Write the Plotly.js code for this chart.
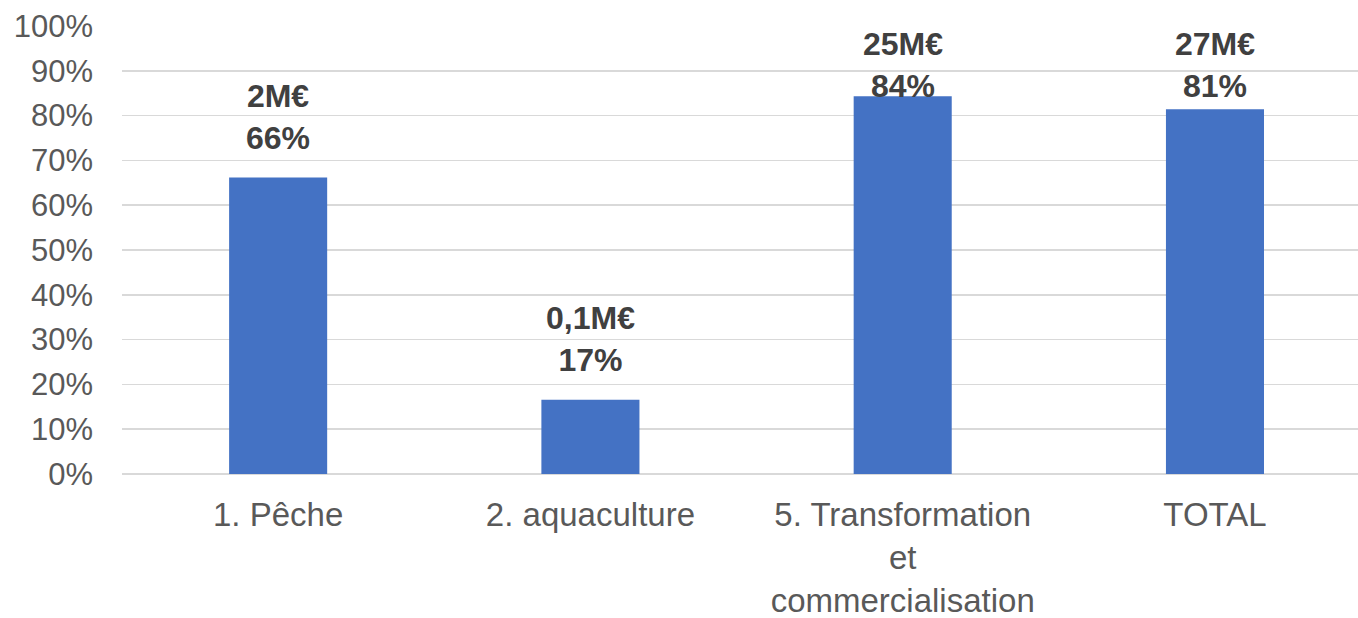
<!DOCTYPE html>
<html>
<head>
<meta charset="utf-8">
<script src="https://cdn.plot.ly/plotly-3.0.1.min.js"></script>
<style>html,body{margin:0;padding:0;background:#fff;}#chart{width:1358px;height:618px;}</style>
</head>
<body>
<div id="chart"></div>
<script>
const categories = ["1. Pêche", "2. aquaculture", "5. Transformation<br>et<br>commercialisation", "TOTAL"];
const shareValues = [66.2, 16.6, 84.3, 81.4];
const amountLabels = ["2M€", "0,1M€", "25M€", "27M€"];
const shareLabels = ["66%", "17%", "84%", "81%"];
const yTickValues = [0, 10, 20, 30, 40, 50, 60, 70, 80, 90, 100];

const trace = {
  type: "bar",
  x: categories,
  y: shareValues,
  width: 0.314,
  marker: {color: "#4472C4"},
  hoverinfo: "skip"
};

// data labels sit above bars, but are kept inside the plot area (as Excel does)
const LABEL_GAP = 4.4;
const LABEL_CAP = 82.1;
const annotations = categories.map((c, i) => ({
  x: c,
  y: Math.min(shareValues[i] + LABEL_GAP, LABEL_CAP),
  xref: "x",
  yref: "y",
  text: amountLabels[i] + "<br>" + shareLabels[i],
  showarrow: false,
  yanchor: "bottom",
  font: {family: "Liberation Sans, Arial, sans-serif", size: 32, color: "#404040", weight: "bold"}
}));

const layout = {
  width: 1358,
  height: 618,
  margin: {l: 122, r: 0, t: 26, b: 144},
  paper_bgcolor: "#ffffff",
  plot_bgcolor: "#ffffff",
  showlegend: false,
  font: {family: "Liberation Sans, Arial, sans-serif", color: "#595959"},
  xaxis: {
    type: "category",
    range: [-0.5, 3.458],
    showgrid: false,
    showline: false,
    zeroline: false,
    ticks: "",
    ticklabelstandoff: 18,
    tickfont: {size: 33, color: "#595959"},
    fixedrange: true
  },
  yaxis: {
    range: [0, 100],
    tickvals: yTickValues,
    ticktext: yTickValues.map(v => v + "%"),
    showgrid: true,
    gridcolor: "#D9D9D9",
    gridwidth: 1.5,
    zeroline: true,
    zerolinecolor: "#D9D9D9",
    zerolinewidth: 1.5,
    showline: false,
    ticks: "",
    ticklabelstandoff: 28,
    tickfont: {size: 31, color: "#595959"},
    fixedrange: true
  },
  annotations: annotations
};

Plotly.newPlot("chart", [trace], layout, {displayModeBar: false, staticPlot: true});
</script>
</body>
</html>
